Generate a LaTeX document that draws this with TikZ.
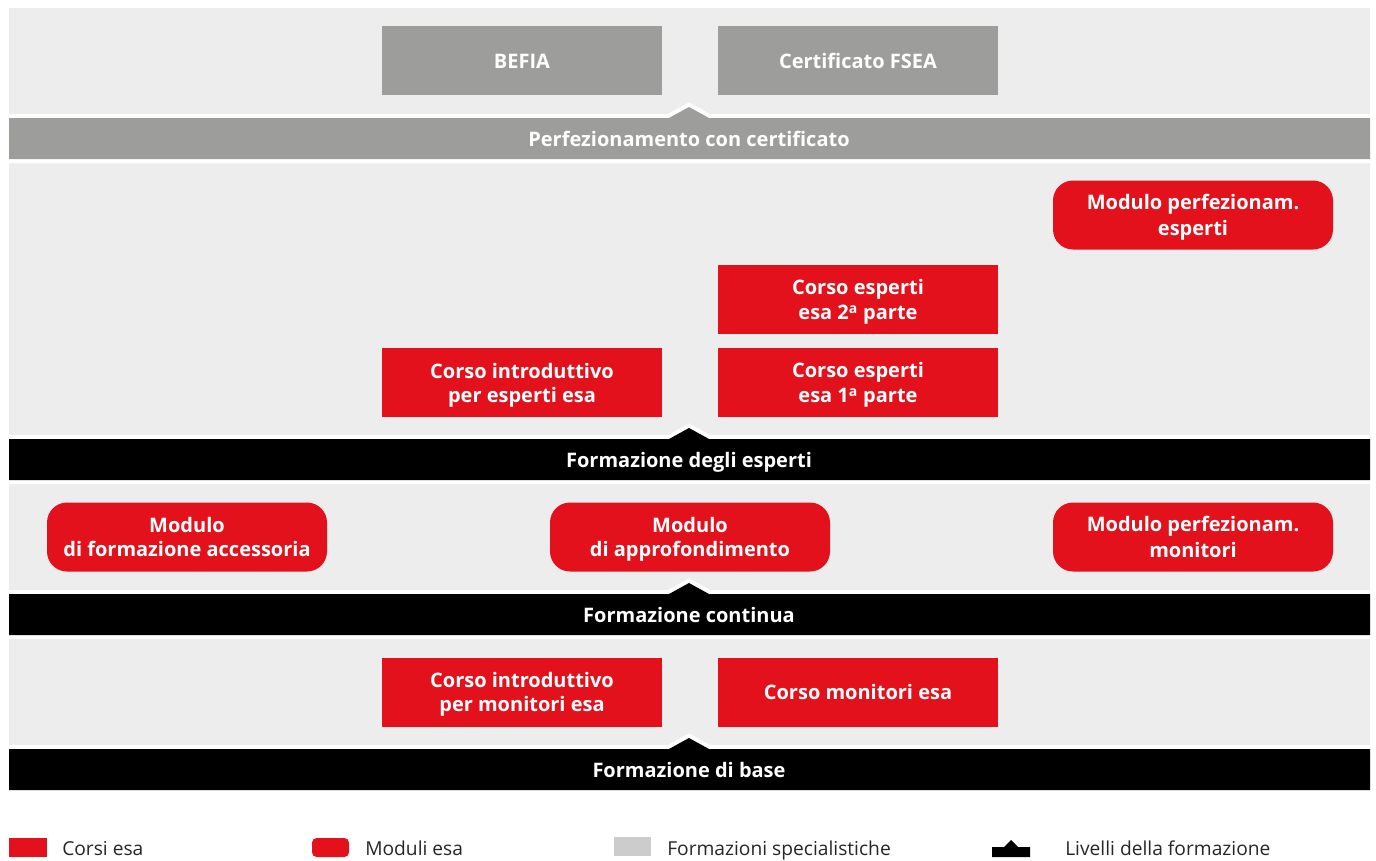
\documentclass[tikz,border=0pt]{standalone}
\usepackage{fontspec}
\setmainfont{Open Sans}
\definecolor{esared}{HTML}{E3111B}
\definecolor{bandgray}{HTML}{EDEDED}
\definecolor{bargray}{HTML}{9D9D9C}
\definecolor{leggray}{HTML}{CCCCCC}
\newcommand{\bl}{\rule[-3.15pt]{0pt}{18pt}}
\tikzset{
  boxbase/.style={minimum width=210pt, minimum height=51.75pt, inner sep=0pt, text=white, align=center,
    font=\bfseries\fontsize{15}{18}\selectfont},
  corso/.style={boxbase, fill=esared},
  modulo/.style={boxbase, fill=esared, rounded corners=15pt},
  spec/.style={boxbase, fill=bargray},
  barlabel/.style={text=white, font=\bfseries\fontsize{15}{18}\selectfont, inner sep=0pt, anchor=base},
  legtext/.style={anchor=base west, inner sep=0pt, font=\fontsize{14.4}{16}\selectfont, text=black!85},
}
\newcommand{\levelbar}[3]{% top, bottom, colour
  \draw[white, line width=6pt, line join=miter] (9,#1) -- (669,#1) -- (689,#1-11) -- (709,#1) -- (1370,#1) -- (1370,#2) -- (9,#2) -- cycle;
  \fill[#3] (9,#1) -- (669,#1) -- (689,#1-11) -- (709,#1) -- (1370,#1) -- (1370,#2) -- (9,#2) -- cycle;
}
\begin{document}
\begin{tikzpicture}[x=0.75pt,y=-0.75pt]
\useasboundingbox (0,0) rectangle (1376,860);
% bands
\fill[bandgray] (9,8) rectangle (1370,114);
\fill[bandgray] (9,163) rectangle (1370,435);
\fill[bandgray] (9,484) rectangle (1370,590);
\fill[bandgray] (9,639) rectangle (1370,745);
% level bars
\levelbar{118}{159}{bargray}
\levelbar{439}{480}{black}
\levelbar{594}{635}{black}
\levelbar{749}{790}{black}
\node[barlabel] (perf) at (689,146) {Perfezionamento con certificato};
\node[barlabel] (esp) at (689,467) {Formazione degli esperti};
\node[barlabel] (cont) at (689,622) {Formazione continua};
\node[barlabel] (base) at (689,777) {Formazione di base};
% top boxes
\node[spec] (befia) at (522,60.5) {\bl BEFIA};
\node[spec] (fsea) at (858,60.5) {\bl Certificato FSEA};
% experts
\node[modulo] (mpe) at (1193,215) {\bl Modulo perfezionam.\\\bl esperti};
\node[corso] (ce2) at (858,299.5) {\bl Corso esperti\\\bl esa 2\textsuperscript{a} parte};
\node[corso] (ce1) at (858,382.5) {\bl Corso esperti\\\bl esa 1\textsuperscript{a} parte};
\node[corso] (cie) at (522,382.5) {\bl Corso introduttivo\\\bl per esperti esa};
% continuing
\node[modulo] (mfa) at (187,537) {\bl Modulo\\\bl di formazione accessoria};
\node[modulo] (mda) at (690,537) {\bl Modulo\\\bl di approfondimento};
\node[modulo] (mpm) at (1193,537) {\bl Modulo perfezionam.\\\bl monitori};
% base
\node[corso] (cim) at (522,692) {\bl Corso introduttivo\\\bl per monitori esa};
\node[corso] (cme) at (858,692) {\bl Corso monitori esa};
% legend
\fill[esared] (9,838) rectangle (47,857);
\node[legtext] (l1) at (62,855) {Corsi esa};
\fill[esared, rounded corners=3.5pt] (312,838) rectangle (349,857);
\node[legtext] (l2) at (365,855) {Moduli esa};
\fill[leggray] (614,837) rectangle (651,856);
\node[legtext] (l3) at (667,855) {Formazioni specialistiche};
\fill[black] (992,857) -- (992,847) -- (1004,847) -- (1011,840) -- (1018,847) -- (1030,847) -- (1030,857) -- cycle;
\node[legtext] (l4) at (1065,855) {Livelli della formazione};
\end{tikzpicture}
\end{document}
